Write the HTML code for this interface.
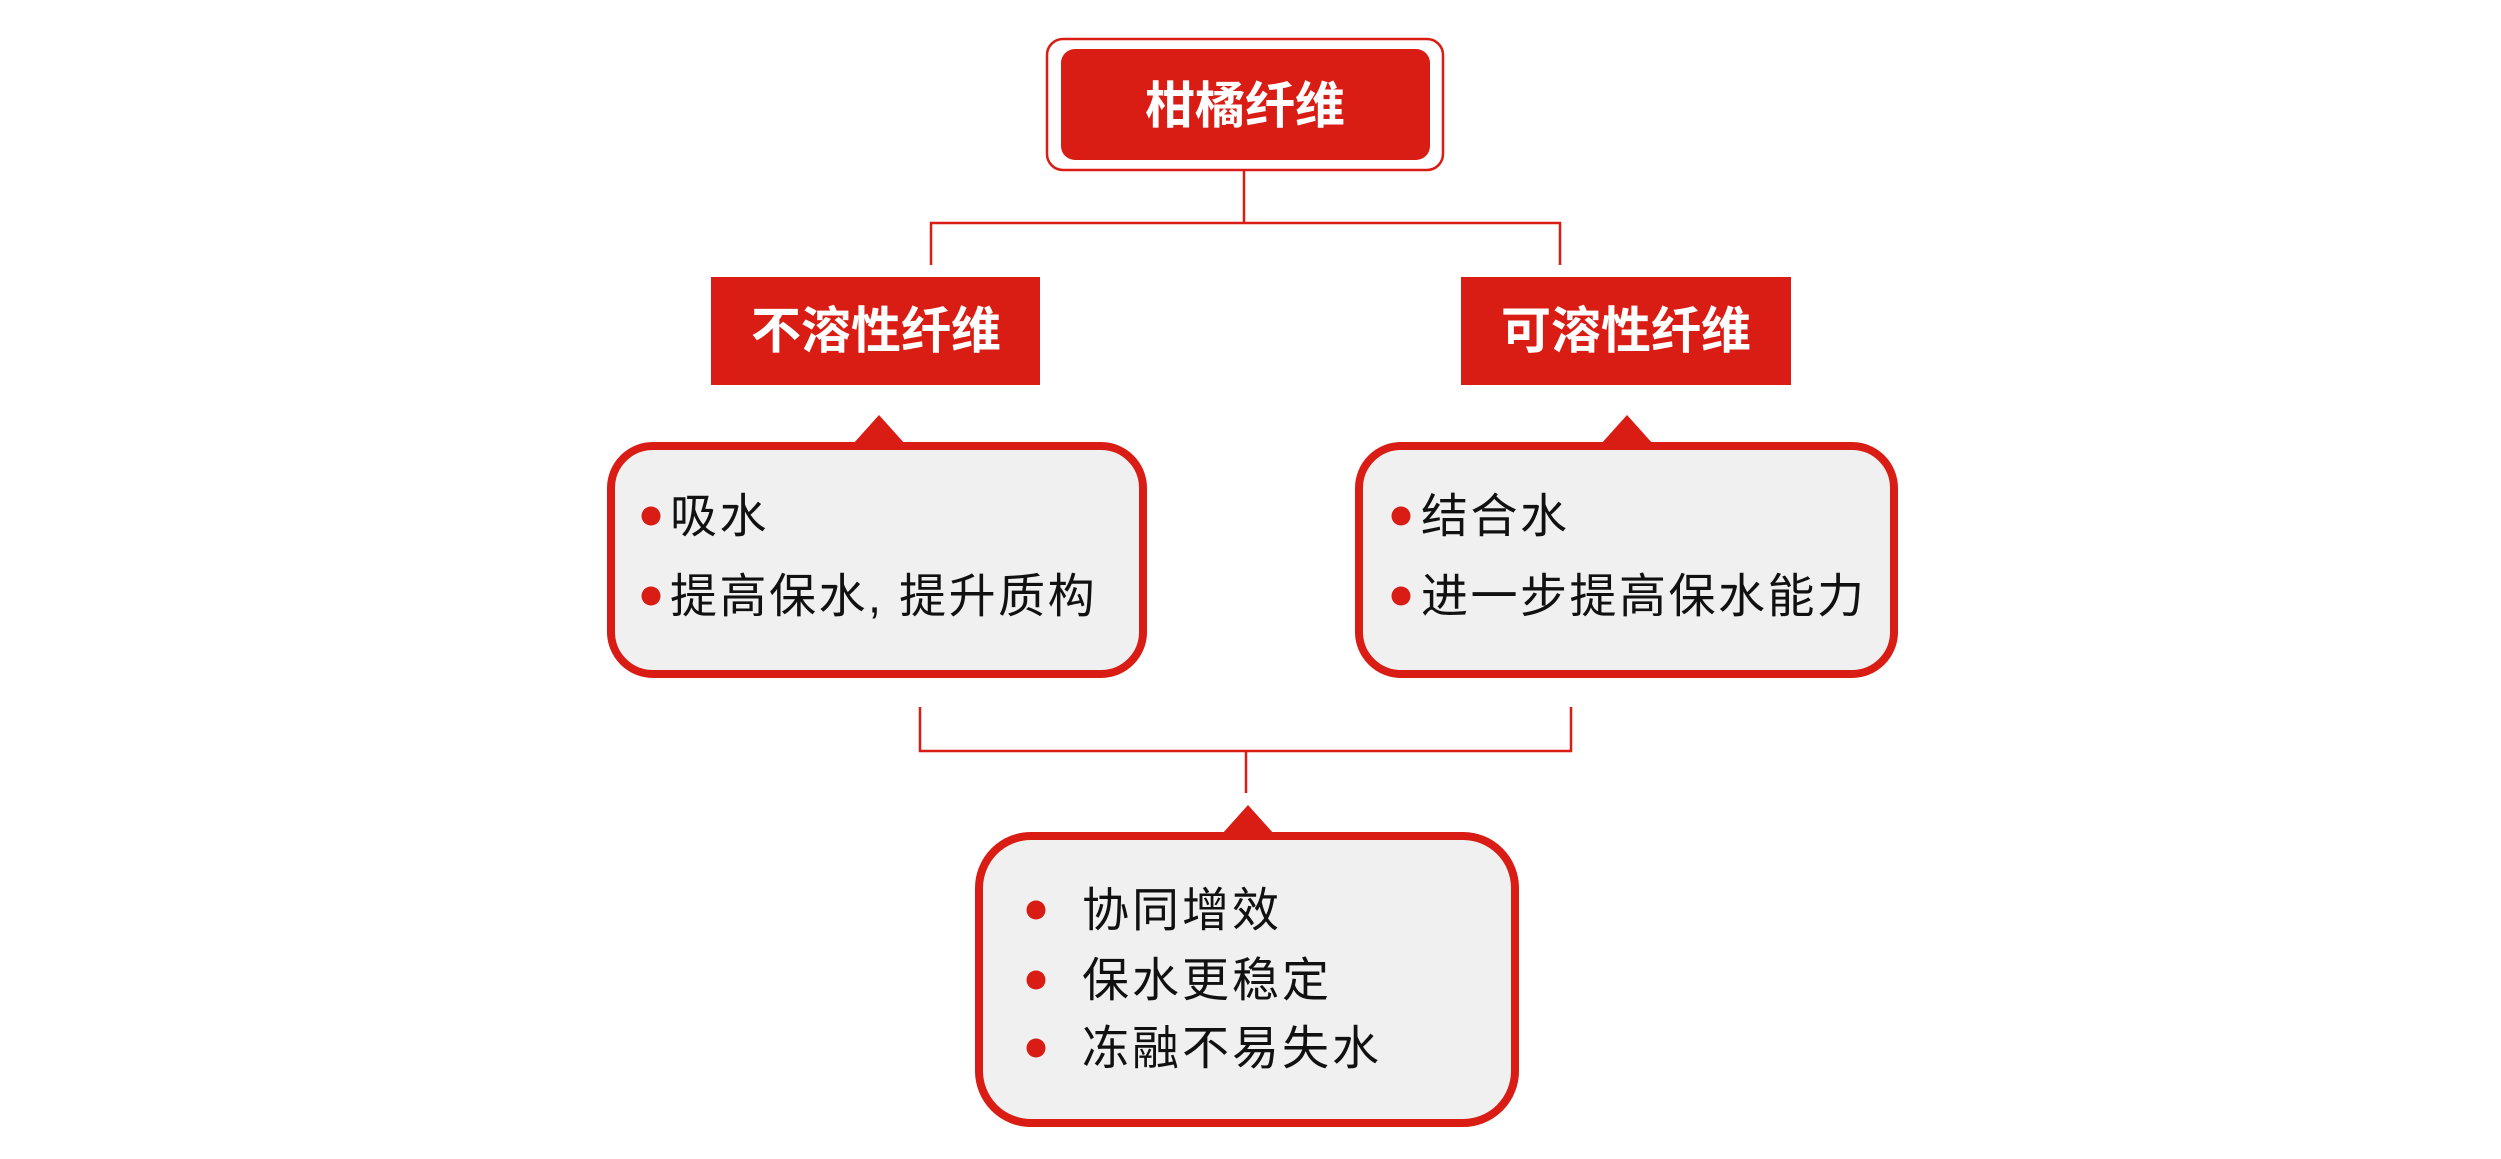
<!DOCTYPE html>
<html><head><meta charset="utf-8"><style>
html,body{margin:0;padding:0;background:#fff;}
body{width:2501px;height:1159px;position:relative;overflow:hidden;font-family:"Liberation Sans","Noto Sans CJK SC",sans-serif;}
.t{position:absolute;white-space:nowrap;line-height:1;}
.w{color:#fff;font-weight:bold;font-size:50px;transform:translate(-50%,-50%);}
.b{color:#111;font-size:47px;transform:translateY(-50%);letter-spacing:2.5px;}
.d{position:absolute;width:19px;height:19px;border-radius:50%;background:#d91c14;transform:translate(-50%,-50%);}
</style></head><body>
<svg width="2501" height="1159" style="position:absolute;left:0;top:0">
<g fill="none" stroke="#d91c14" stroke-width="2.5">
<rect x="1047" y="39" width="396" height="131" rx="16"/>
<path d="M1244 170 V223 M931 265 V223 H1560 V265"/>
<path d="M920 707 V751 H1571 V707 M1246 751 V793"/>
</g>
<rect x="1061" y="49" width="369" height="111" rx="14" fill="#d91c14"/>
<rect x="711" y="277" width="329" height="108" fill="#d91c14"/>
<rect x="1461" y="277" width="330" height="108" fill="#d91c14"/>
<g fill="#f0f0f0" stroke="#d91c14" stroke-width="8">
<rect x="611" y="446" width="532" height="228" rx="42"/>
<rect x="1359" y="446" width="535" height="228" rx="42"/>
<rect x="979" y="836" width="536" height="287" rx="52"/>
</g>
<g fill="#d91c14">
<polygon points="853,444 879,415 905,444"/>
<polygon points="1601,444 1627,415 1653,444"/>
<polygon points="1222,834 1248,805 1274,834"/>
</g>
</svg>
<div class="t w" style="left:1245px;top:106px;">柑橘纤维</div>
<div class="t w" style="left:876px;top:331px;">不溶性纤维</div>
<div class="t w" style="left:1626px;top:331px;">可溶性纤维</div>
<div class="d" style="left:651px;top:516px;"></div>
<div class="t b" style="left:670px;top:516px;">吸水</div>
<div class="d" style="left:651px;top:596px;"></div>
<div class="t b" style="left:670px;top:596px;">提高保水, 提升质构</div>
<div class="d" style="left:1401px;top:516px;"></div>
<div class="t b" style="left:1421px;top:516px;">结合水</div>
<div class="d" style="left:1401px;top:596px;"></div>
<div class="t b" style="left:1421px;top:596px;">进一步提高保水能力</div>
<div class="d" style="left:1036px;top:910px;"></div>
<div class="t b" style="left:1082px;top:910px;letter-spacing:3px;">协同增效</div>
<div class="d" style="left:1036px;top:980px;"></div>
<div class="t b" style="left:1082px;top:980px;letter-spacing:3px;">保水更稳定</div>
<div class="d" style="left:1036px;top:1048px;"></div>
<div class="t b" style="left:1082px;top:1048px;letter-spacing:3px;">冻融不易失水</div>
</body></html>
